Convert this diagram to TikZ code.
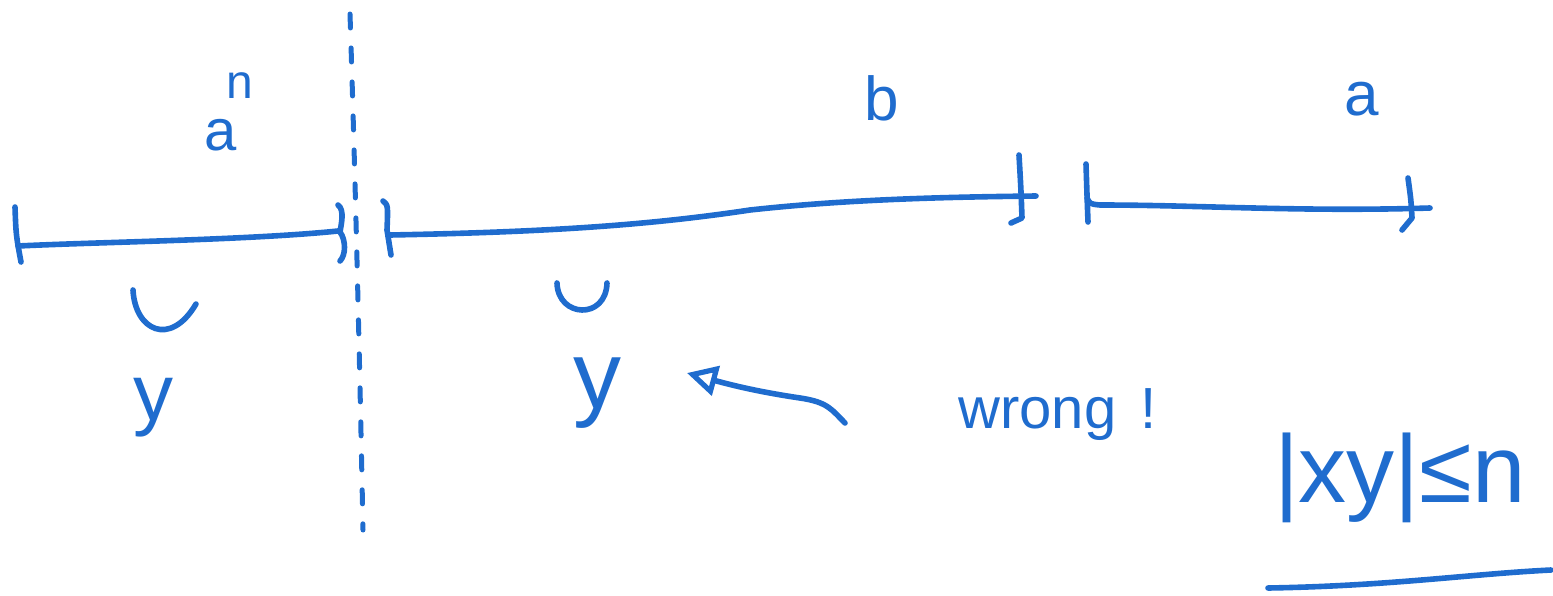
\documentclass[tikz,border=0pt]{standalone}
\usepackage{fontspec}
\setmainfont{Liberation Sans}
\usetikzlibrary{arrows.meta}
\definecolor{pen}{RGB}{31,108,206}
\tikzset{
  ink/.style={draw=pen, line width=2.8pt, line cap=round, line join=round},
  dashink/.style={ink, line width=2.5pt, dash pattern=on 7pt off 10pt},
  lbl/.style={text=pen, inner sep=0pt, anchor=base},
}
\newcommand{\fs}[1]{\fontsize{#1}{#1}\selectfont}
\begin{document}
\begin{tikzpicture}[x=0.5pt,y=-0.5pt]
\useasboundingbox (0,0) rectangle (1553,595);

% dashed divider
\coordinate (dtop) at (350,14);
\coordinate (dbot) at (363,530);
\draw[dashink] (dtop) .. controls (356,200) and (360,380) .. (dbot);

% first segment
\draw[ink] (15,207) .. controls (16,235) .. (21,262);
\draw[ink] (18,246) .. controls (100,242) and (250,240) .. (338,231);
\draw[ink] (338,205) .. controls (345,210) and (341,225) .. (340,232)
           .. controls (346,240) and (346,255) .. (340,261);

% second segment
\draw[ink] (383,201) .. controls (388,205) .. (387,230) -- (391,255);
\draw[ink] (390,235) .. controls (550,232) and (650,225) .. (750,210)
           .. controls (850,199) and (950,197) .. (1036,196);
\draw[ink] (1019,155) .. controls (1021,190) .. (1022,218) -- (1011,223);

% third segment
\draw[ink] (1086,164) .. controls (1087,195) .. (1088,222);
\draw[ink] (1087,198) .. controls (1090,204) .. (1100,205)
           .. controls (1200,205) and (1300,212) .. (1430,208);
\draw[ink] (1408,178) .. controls (1411,200) .. (1412,218) -- (1402,230);

% labels above
\node[lbl, font=\fs{29}] (a1) at (221,150) {a};
\node[lbl, font=\fs{24}] (n1) at (240,98) {n};
\node[lbl, font=\fs{31}] (b1) at (882,120) {b};
\node[lbl, font=\fs{31}] (a2) at (1362,115) {a};

% under-marks
\draw[ink] (133,290) .. controls (135,330) and (170,348) .. (196,304);
\draw[ink] (557,283) .. controls (558,318) and (606,320) .. (607,283);

% y labels
\node[lbl, font=\fs{40}] (y1) at (153,420) {y};
\node[lbl, font=\fs{48}] (y2) at (597,408) {y};

% wrong! with arrow
\node[lbl, anchor=base west, font=\fs{29}] (wrong) at (958,428) {wrong\hspace{12pt}!};
\coordinate (arrS) at (845,423);
\coordinate (arrE) at (687,373);
\draw[ink, -{Triangle[open, length=15pt, width=15pt, line width=2.6pt]}]
  (arrS) .. controls (832,410) and (828,402) .. (800,398)
  .. controls (760,392) and (735,386) .. (arrE);

% |xy| <= n
\node[lbl, font=\fs{48}] (cond) at (1400,502) {|xy|≤n};
\coordinate (ulA) at (1268,588);
\coordinate (ulB) at (1551,570);
\draw[ink] (ulA) .. controls (1390,586) and (1470,574) .. (ulB);
\end{tikzpicture}
\end{document}
